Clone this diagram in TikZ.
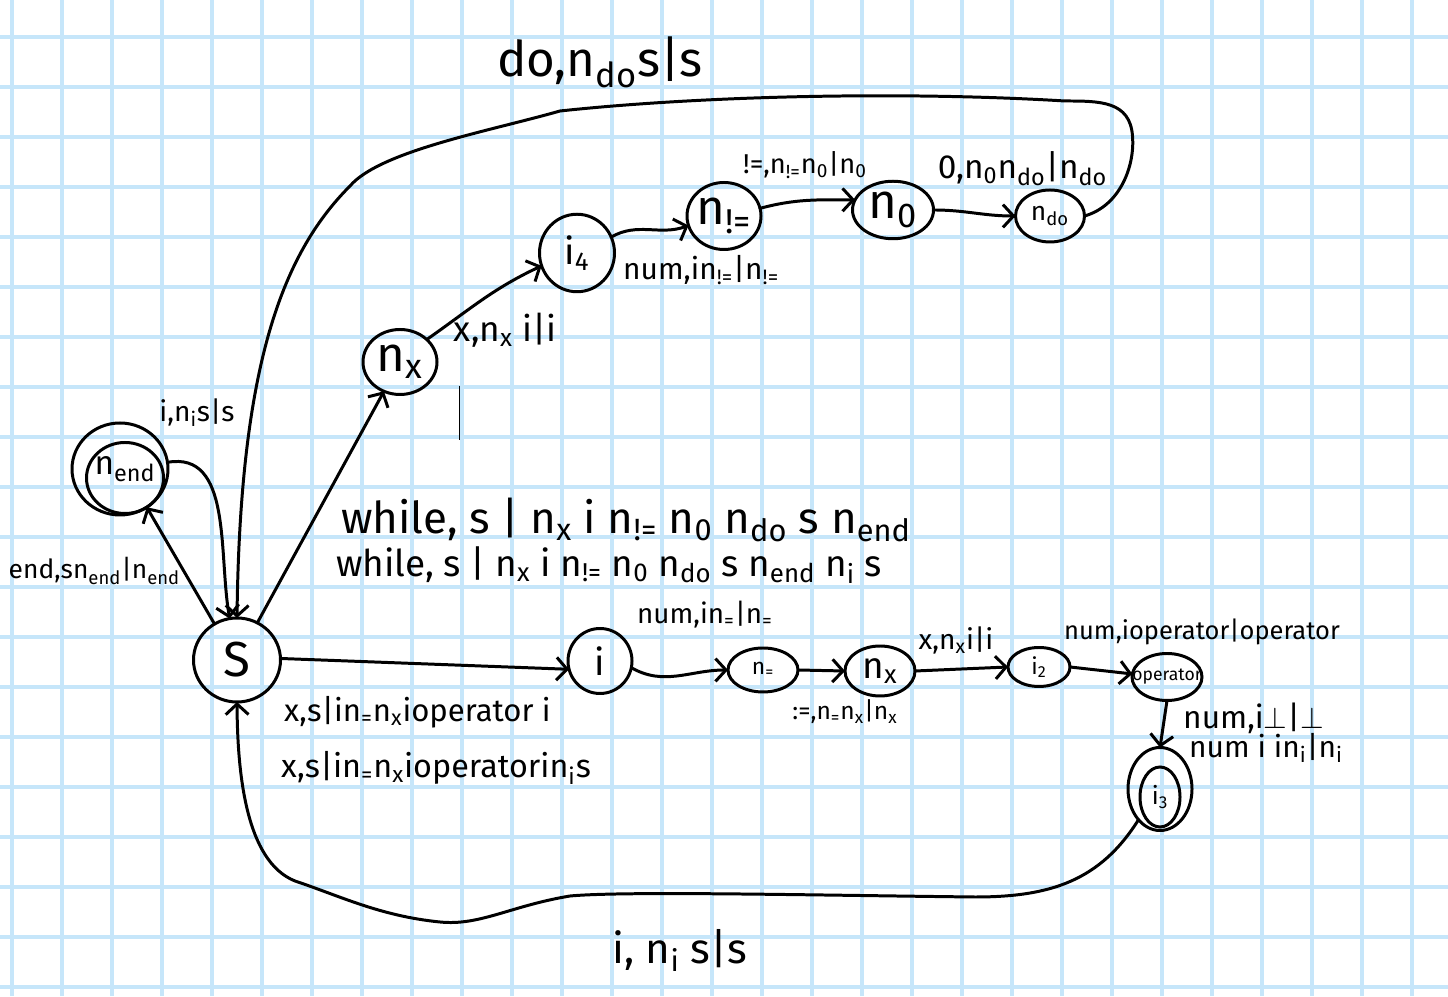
\documentclass[tikz,border=0pt]{standalone}
\usepackage{fontspec}
\setmainfont{Fira Sans}
\usepackage{amssymb}
\usepackage{tikz}
\usetikzlibrary{arrows.meta,shapes.geometric,calc}
\definecolor{gridblue}{RGB}{198,230,250}
\tikzset{>={Straight Barb[length=6pt,width=13pt]}}
\tikzset{
  state/.style={draw, ellipse, line width=1.7pt, inner sep=0pt, outer sep=0pt},
  ring/.style={line width=1.7pt},
  edge/.style={->, line width=1.7pt, line cap=round},
  gridline/.style={gridblue, line width=1.8pt},
  fsize/.style={font=\fontsize{#1}{#1}\selectfont},
}
\newcommand{\mb}[1]{\makebox[0pt]{#1}}
\newcommand{\ns}[1]{n\textsubscript{#1}}

\begin{document}
\begin{tikzpicture}
                        \useasboundingbox (0,0) rectangle (28.96,19.92);
                        \fill[white] (0,0) rectangle (28.96,19.92);
                        \foreach \i in {0,...,28}
                        \draw[gridline] (\i+0.24,0) -- (\i+0.24,19.92);
                        \foreach \j in {0,...,19}
                        \draw[gridline] (0,\j+0.18) -- (28.96,\j+0.18);

                        \node[state, fsize=28, minimum width=1.74cm, minimum height=1.68cm] (S) at (4.74,6.72) {\mb{S}};
                        \node[state, fsize=19, minimum width=1.92cm, minimum height=1.84cm] (nend) at (2.4,10.54) {\mb{\hspace{0.2cm}\raisebox{-0.15cm}{\ns{end}}}};
                        \draw[ring] ($(nend.center)+(0.1,-0.18)$) ellipse (0.77 and 0.71);
                        \node[state, fsize=28, minimum width=1.48cm, minimum height=1.3cm] (nxa) at (8.0,12.68) {\mb{\ns{x}}};
                        \node[state, fsize=21, minimum width=1.5cm, minimum height=1.55cm] (i4) at (11.54,14.86) {\mb{i\textsubscript{4}}};
                        \node[state, fsize=28, minimum width=1.48cm, minimum height=1.34cm] (nne) at (14.48,15.6) {\mb{\ns{!=}}};
                        \node[state, fsize=28, minimum width=1.62cm, minimum height=1.15cm] (n0) at (17.86,15.72) {\mb{\ns{0}}};
                        \node[state, fsize=15, minimum width=1.38cm, minimum height=1.04cm] (ndo) at (21.0,15.6) {\mb{\ns{do}}};
                        \node[state, fsize=21, minimum width=1.28cm, minimum height=1.3cm] (i) at (12.0,6.7) {\mb{i}};
                        \node[state, fsize=13, minimum width=1.4cm, minimum height=0.88cm] (neq) at (15.26,6.52) {\mb{\ns{=}}};
                        \node[state, fsize=21, minimum width=1.4cm, minimum height=1.0cm] (nxb) at (17.6,6.5) {\mb{\ns{x}}};
                        \node[state, fsize=13, minimum width=1.24cm, minimum height=0.78cm] (i2) at (20.78,6.58) {\mb{i\textsubscript{2}}};
                        \node[state, fsize=10, minimum width=1.4cm, minimum height=0.94cm] (op) at (23.34,6.38) {\mb{operator}};
                        \node[state, minimum width=1.28cm, minimum height=1.66cm] (i3) at (23.2,4.14) {};
                        \draw[ring] ($(i3.center)+(0,-0.16)$) ellipse (0.4 and 0.6);
                        \node[fsize=14] at ($(i3.center)+(0,-0.16)$) {i\textsubscript{3}};

                        \draw[edge] (S.122) -- (nend.-55);
                        \draw[edge] (nend.8) to[out=10,in=100] (S.100);
                        \draw[edge] (S) -- (nxa);
                        \draw[edge] (nxa.40) to[out=35,in=205] (i4.200);
                        \draw[edge] (i4.25) to[out=30,in=200] (nne.195);
                        \draw[edge] (nne.12) to[out=15,in=180] (n0.165);
                        \draw[edge] (n0.east) to[out=0,in=180] (ndo.west);
                        \draw[edge] (ndo.east) .. controls (22.4,15.8) and (22.7,16.6) .. (22.65,17.2)
                                    .. controls (22.6,17.9) and (22.0,17.9) .. (21.3,17.9)
                                    .. controls (18,18.1) and (14,18) .. (11.2,17.7)
                                    .. controls (9.8,17.3) and (7.6,16.9) .. (7.0,16.2)
                                    .. controls (5.6,14.8) and (4.8,12.5) .. (S.90);
                        \draw[edge] (S.2) -- (i.195);
                        \draw[edge] (i.-12) to[out=-30,in=180] (neq.west);
                        \draw[edge] (neq.east) -- (nxb.west);
                        \draw[edge] (nxb.east) -- (i2.west);
                        \draw[edge] (i2.east) -- (op.175);
                        \draw[edge] (op.south) -- (i3.north);
                        \draw[edge] (i3.235) .. controls (22,2.3) and (21,1.98) .. (19.5,1.98)
                                    .. controls (16,2.02) and (12.5,2.1) .. (11.4,2.0)
                                    .. controls (10.2,1.8) and (9.6,1.4) .. (8.8,1.48)
                                    .. controls (7.6,1.6) and (6.8,2.0) .. (5.9,2.3)
                                    .. controls (4.9,2.7) and (4.75,4.5) .. (S.270);
                        \draw[line width=0.5pt] (9.18,12.2) -- (9.18,11.12);

                        \node[fsize=28] (lbldo) at (12.0,18.68) {do,\ns{do}s|s};
                        \node[fsize=25, anchor=west] (lblwa) at (6.7,9.52) {while, s | \ns{x} i \ns{!=} \ns{0} \ns{do} s \ns{end}};
                        \node[fsize=21, anchor=west] (lblwb) at (6.6,8.62) {while, s | \ns{x} i \ns{!=} \ns{0} \ns{do} s \ns{end} \ns{i} s};
                        \node[fsize=15, anchor=west] (lblend) at (0.05,8.5) {end,s\ns{end}|\ns{end}};
                        \node[fsize=16] (lblil) at (3.94,11.66) {i,\ns{i}s|s};
                        \node[fsize=20] (lblxa) at (10.1,13.32) {x,\ns{x} i|i};
                        \node[fsize=17, anchor=west] (lblnum) at (12.34,14.52) {num,i\ns{!=}|\ns{!=}};
                        \node[fsize=15.5] (lblne) at (16.1,16.62) {!=,\ns{!=}\ns{0}|\ns{0}};
                        \node[fsize=19] (lblzero) at (20.45,16.55) {0,\ns{0}\ns{do}|\ns{do}};
                        \node[fsize=17.7, anchor=west] (lblxsa) at (5.56,5.68) {x,s|i\ns{=}\ns{x}ioperator i};
                        \node[fsize=18.4, anchor=west] (lblxsb) at (5.5,4.56) {x,s|i\ns{=}\ns{x}ioperatori\ns{i}s};
                        \node[fsize=15.8] (lbleq) at (14.1,7.62) {num,i\ns{=}|\ns{=}};
                        \node[fsize=14] (lblassign) at (16.9,5.68) {:=,\ns{=}\ns{x}|\ns{x}};
                        \node[fsize=16] (lblxb) at (19.12,7.12) {x,\ns{x}i|i};
                        \node[fsize=14.5] (lblop) at (24.04,7.28) {num,ioperator|operator};
                        \node[fsize=18, anchor=west] (lblbot) at (23.54,5.56) {num,i$\perp$|$\perp$};
                        \node[fsize=17, anchor=west] (lblni) at (23.66,4.96) {num i i\ns{i}|\ns{i}};
                        \node[fsize=24] (lblib) at (13.6,0.92) {i, \ns{i} s|s};
\end{tikzpicture}
\end{document}
